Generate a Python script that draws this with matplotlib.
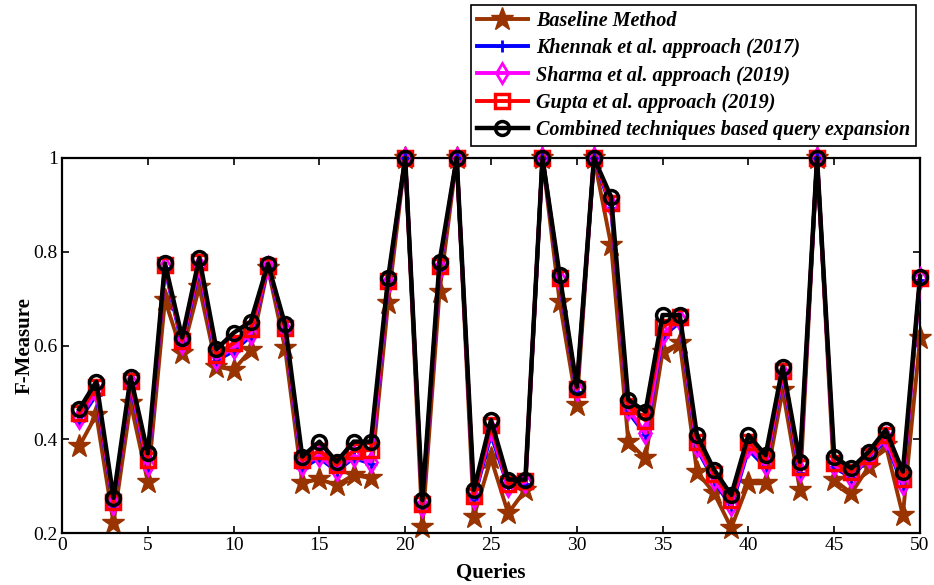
import matplotlib
matplotlib.use('Agg')
import matplotlib.pyplot as plt
import numpy as np

plt.rcParams.update({
    "font.family": ["Liberation Serif", "DejaVu Serif"],
    "font.size": 13,
    "axes.linewidth": 1.6,
    "xtick.direction": "in",
    "ytick.direction": "in",
    "xtick.top": True,
    "ytick.right": True,
    "xtick.major.size": 5,
    "ytick.major.size": 5,
    "xtick.major.width": 1.2,
    "ytick.major.width": 1.2,
})

queries = np.arange(1, 51)

baseline = [0.385, 0.452, 0.221, 0.477, 0.309, 0.697, 0.584, 0.725, 0.555, 0.548,
            0.590, 0.765, 0.594, 0.307, 0.315, 0.302, 0.324, 0.317, 0.690, 1.000,
            0.213, 0.715, 1.000, 0.235, 0.359, 0.242, 0.292, 1.000, 0.693, 0.473,
            1.000, 0.814, 0.395, 0.359, 0.587, 0.605, 0.331, 0.285, 0.211, 0.306,
            0.306, 0.505, 0.292, 1.000, 0.313, 0.285, 0.341, 0.388, 0.238, 0.615]

khennak = [0.440, 0.495, 0.258, 0.515, 0.340, 0.765, 0.600, 0.765, 0.568, 0.588,
           0.620, 0.765, 0.630, 0.338, 0.360, 0.332, 0.360, 0.348, 0.730, 1.000,
           0.255, 0.760, 1.000, 0.272, 0.410, 0.298, 0.305, 1.000, 0.735, 0.500,
           1.000, 0.893, 0.458, 0.410, 0.618, 0.650, 0.380, 0.312, 0.255, 0.378,
           0.340, 0.535, 0.328, 1.000, 0.340, 0.318, 0.360, 0.398, 0.300, 0.740]

sharma = [0.445, 0.502, 0.262, 0.520, 0.345, 0.768, 0.605, 0.770, 0.572, 0.595,
          0.625, 0.768, 0.632, 0.345, 0.365, 0.335, 0.365, 0.352, 0.733, 1.000,
          0.258, 0.765, 1.000, 0.275, 0.420, 0.300, 0.308, 1.000, 0.740, 0.505,
          1.000, 0.900, 0.465, 0.413, 0.625, 0.655, 0.385, 0.315, 0.260, 0.385,
          0.345, 0.540, 0.333, 1.000, 0.345, 0.320, 0.363, 0.403, 0.305, 0.743]

gupta = [0.455, 0.512, 0.266, 0.525, 0.355, 0.772, 0.610, 0.778, 0.580, 0.605,
         0.635, 0.770, 0.638, 0.355, 0.375, 0.345, 0.375, 0.377, 0.738, 1.000,
         0.262, 0.770, 1.000, 0.280, 0.430, 0.305, 0.312, 1.000, 0.745, 0.508,
         1.000, 0.905, 0.470, 0.440, 0.640, 0.660, 0.395, 0.325, 0.270, 0.395,
         0.355, 0.545, 0.340, 1.000, 0.350, 0.330, 0.365, 0.410, 0.315, 0.745]

combined = [0.464, 0.523, 0.275, 0.533, 0.370, 0.775, 0.617, 0.787, 0.592, 0.627,
            0.651, 0.774, 0.645, 0.363, 0.395, 0.352, 0.395, 0.395, 0.743, 1.000,
            0.270, 0.779, 1.000, 0.292, 0.441, 0.314, 0.314, 1.000, 0.750, 0.512,
            1.000, 0.917, 0.484, 0.459, 0.665, 0.665, 0.409, 0.335, 0.281, 0.409,
            0.366, 0.555, 0.352, 1.000, 0.363, 0.338, 0.373, 0.420, 0.331, 0.747]

labels = ['Baseline Method',
          'Khennak et al. approach (2017)',
          'Sharma et al. approach (2019)',
          'Gupta et al. approach (2019)',
          'Combined techniques based query expansion']

fig = plt.figure(figsize=(9.34, 5.85), dpi=100)
ax = fig.add_axes([62 / 934, 52 / 585, 858 / 934, 375 / 585])

lw = 2.8
ax.plot(queries, baseline, color='#993300', lw=lw, marker='*', ms=17,
        label=labels[0], clip_on=False, zorder=2)
ax.plot(queries, khennak, color='blue', lw=lw, marker='+', ms=8, mew=2,
        label=labels[1], clip_on=False, zorder=3)
ax.plot(queries, sharma, color='magenta', lw=lw, marker='d', ms=10, mew=2,
        mfc='none', label=labels[2], clip_on=False, zorder=4)
ax.plot(queries, gupta, color='red', lw=lw, marker='s', ms=10, mew=2.5,
        mfc='none', label=labels[3], clip_on=False, zorder=5)
ax.plot(queries, combined, color='black', lw=lw + 0.4, marker='o', ms=10, mew=2.5,
        mfc='none', label=labels[4], clip_on=False, zorder=6)

ax.set_xlim(0, 50)
ax.set_ylim(0.2, 1.0)
ax.set_xticks(np.arange(0, 51, 5))
ax.set_yticks([0.2, 0.4, 0.6, 0.8, 1.0])
ax.set_yticklabels(['0.2', '0.4', '0.6', '0.8', '1'])
ax.tick_params(labelsize=14, pad=3)

ax.set_xlabel('Queries', fontsize=15, fontweight='bold', labelpad=6)
ax.set_ylabel('F-Measure', fontsize=15, fontweight='bold', labelpad=-1)

leg = ax.legend(loc='upper right', bbox_to_anchor=(916 / 934, 1 - 5 / 585),
                bbox_transform=fig.transFigure, fancybox=False, framealpha=1,
                edgecolor='black', borderpad=0.3, labelspacing=0.36,
                handlelength=2.5, handletextpad=0.4, borderaxespad=0,
                prop={'family': ['Liberation Serif'], 'style': 'italic',
                      'weight': 'bold', 'size': 14.5})
leg.get_frame().set_linewidth(1.2)
leg.set_zorder(10)

fig.savefig('out.png', dpi=100)
